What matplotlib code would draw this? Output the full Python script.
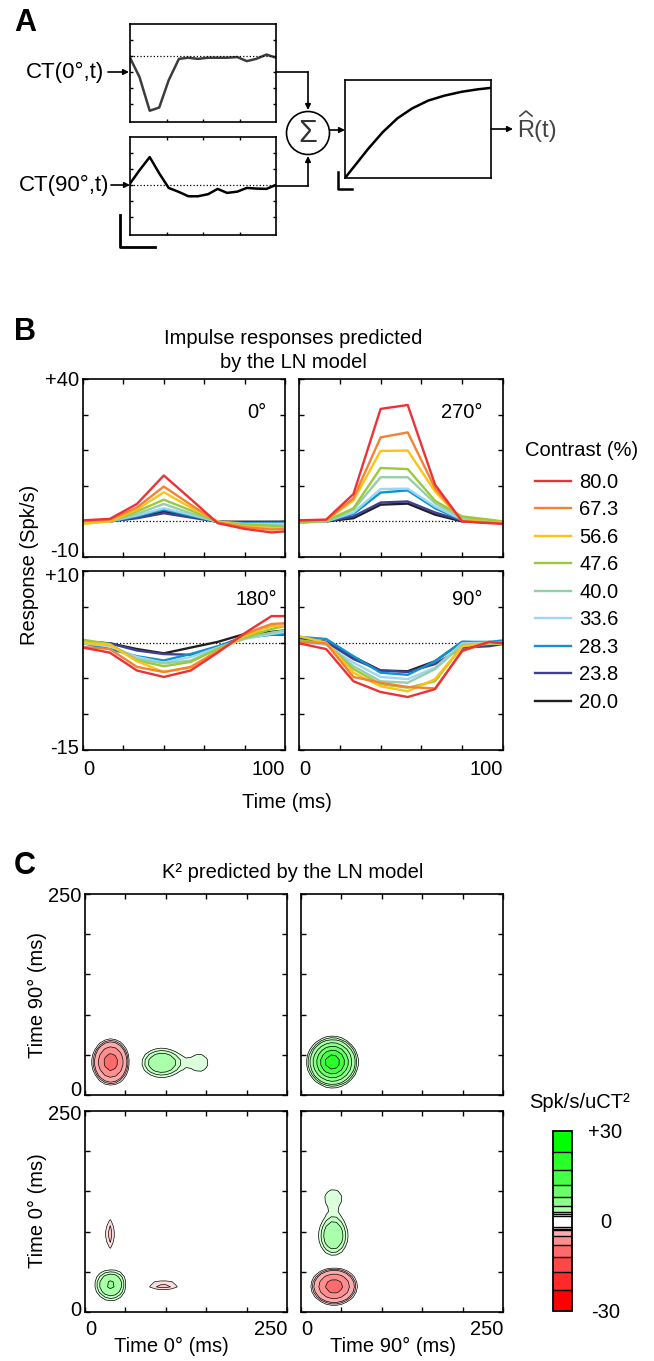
import numpy as np
import matplotlib.pyplot as plt
from matplotlib.patches import Circle

plt.rcParams['font.family'] = ['Liberation Sans', 'DejaVu Sans']
plt.rcParams['axes.unicode_minus'] = False

W, H = 654, 1361
FS = 14.5

# ---- panel A: cross-temporal kernels and static nonlinearity ----
ct_t = [0, 13, 27, 40, 53, 67, 80, 93, 107, 120, 133, 147, 160, 173, 187, 200]
ct0 = [-0.1, -1.3, -3.4, -3.2, -1.5, -0.17, -0.1, -0.17, -0.1, -0.1,
       -0.1, -0.06, -0.31, -0.17, 0.1, -0.1]
ct90 = [0.1, 0.93, 1.75, 0.74, -0.17, -0.42, -0.69, -0.69, -0.56, -0.23,
        -0.48, -0.40, -0.17, -0.21, -0.23, 0.02]

nl_x = [0, 0.08, 0.16, 0.26, 0.36, 0.46, 0.57, 0.68, 0.80, 0.91, 1.0]
nl_y = [0, 0.15, 0.30, 0.47, 0.61, 0.71, 0.79, 0.84, 0.88, 0.905, 0.92]

# ---- panel B: impulse responses ----
b_t = [0, 13.3, 26.7, 40, 53.3, 66.7, 80, 93.3, 100]
contrasts = ['80.0', '67.3', '56.6', '47.6', '40.0', '33.6', '28.3', '23.8', '20.0']
contrast_colors = ['#ec3237', '#f58233', '#fdc218', '#9bc93d', '#94cfa9',
                   '#9cd7ef', '#0d93d2', '#3d3f92', '#231f20']

resp_0 = [
    [0.3, 0.7, 4.9, 12.9, 6.3, -0.5, -2.1, -3.1, -2.8],
    [0.2, 0.5, 3.9, 9.8, 4.7, -0.3, -1.6, -2.3, -2.1],
    [-0.7, 0.0, 3.3, 8.2, 3.9, 0.0, -1.4, -1.9, -1.9],
    [-0.3, 0.0, 2.8, 6.1, 3.1, -0.1, -0.9, -1.2, -1.4],
    [-0.3, 0.0, 2.1, 4.9, 2.3, -0.1, -1.0, -1.2, -1.2],
    [-0.2, 0.0, 1.7, 3.7, 1.9, -0.1, -0.7, -0.7, -0.7],
    [-0.2, 0.0, 1.4, 3.3, 1.6, -0.1, -0.5, -0.5, -0.5],
    [-0.3, 0.0, 0.9, 2.3, 1.1, -0.1, -0.3, -0.2, -0.2],
    [-0.2, 0.0, 1.1, 2.8, 1.4, -0.1, -0.1, -0.1, -0.1],
]
resp_270 = [
    [0.3, 0.5, 7.7, 31.6, 32.7, 10.3, 0.0, -0.5, -0.7],
    [0.2, 0.4, 6.5, 23.6, 25.0, 9.3, 0.0, -0.3, -0.5],
    [0.1, 0.3, 5.9, 19.8, 19.9, 8.4, 0.3, -0.2, -0.2],
    [-0.2, 0.1, 3.7, 15.0, 14.7, 5.8, 1.4, 0.5, 0.0],
    [-0.4, 0.0, 3.3, 12.4, 12.4, 5.1, 0.9, 0.2, -0.2],
    [-0.2, 0.0, 2.5, 9.1, 9.2, 4.2, 0.5, 0.0, -0.3],
    [-0.2, 0.0, 2.1, 8.1, 8.7, 3.7, 0.3, -0.1, -0.2],
    [-0.2, 0.0, 1.4, 5.3, 5.6, 2.5, 0.2, -0.3, -0.5],
    [-0.1, 0.0, 0.9, 4.7, 5.0, 1.9, 0.0, -0.3, -0.5],
]
resp_180 = [
    [-0.7, -1.4, -3.9, -4.8, -3.9, -1.4, 1.3, 3.7, 3.7],
    [-0.6, -0.9, -3.4, -4.1, -3.4, -1.2, 1.2, 2.6, 2.7],
    [0.0, -0.3, -2.6, -4.1, -3.5, -1.2, 0.9, 2.3, 2.4],
    [0.4, -0.2, -2.5, -3.3, -2.7, -0.9, 0.7, 1.9, 2.3],
    [0.1, -0.3, -2.3, -2.9, -2.5, -0.8, 0.6, 1.4, 1.7],
    [-0.1, -0.5, -2.0, -2.8, -2.0, -0.7, 0.5, 1.2, 1.5],
    [-0.1, -0.9, -1.9, -2.5, -1.6, -0.5, 0.7, 1.1, 1.2],
    [0.1, -0.1, -1.1, -1.6, -1.7, -0.6, 0.9, 1.1, 1.1],
    [0.1, -0.1, -0.9, -1.5, -0.7, 0.1, 1.2, 1.5, 1.7],
]
resp_90 = [
    [-0.1, -0.9, -5.4, -6.9, -7.6, -6.5, -1.1, 0.1, -0.1],
    [0.1, -0.1, -4.8, -5.6, -6.2, -6.4, -1.2, 0.1, -0.1],
    [0.9, 0.0, -4.2, -6.1, -6.8, -5.1, -0.5, 0.0, -0.1],
    [0.3, -0.1, -3.7, -5.8, -6.3, -5.4, -0.5, -0.1, -0.2],
    [0.3, -0.2, -3.3, -5.4, -5.6, -3.7, -0.3, -0.1, -0.2],
    [0.1, -0.3, -2.8, -4.8, -5.1, -3.5, -0.1, 0.0, 0.0],
    [0.8, 0.5, -1.9, -4.2, -4.5, -2.6, 0.1, 0.1, 0.3],
    [0.5, 0.1, -2.3, -3.9, -4.1, -3.0, -0.7, -0.5, -0.2],
    [0.5, 0.1, -2.0, -3.9, -4.0, -2.6, 0.1, 0.0, 0.0],
]

# ---- panel C: second-order kernels, blobs ----
# (centre x, centre y, amplitude, width x, width y), times in ms
cross_cx = [32, 95, 143]
cross_cy = [41, 40, 40]
cross_amp = [-10.0, 4.9, 2.05]
cross_sx = [13, 17, 13]
cross_sy = [16, 12, 14]

self90_cx, self90_cy, self90_amp, self90_sx, self90_sy = [39], [41], [21.0], [14], [14]

self0_cx = [32, 31, 97]
self0_cy = [34, 97, 33]
self0_amp = [5.6, -2.8, -2.8]
self0_sx = [12.5, 7, 22]
self0_sy = [12.5, 22, 7]

c_levels = [-30, -23, -17, -12, -8, -5, -3, -2.5, -2, 1.6, 2.2, 3, 5, 8, 12, 17, 23, 30]
c_colors = ['#ff0000', '#ff2a2a', '#ff4848', '#ff6a6a', '#ff8e8e', '#ffaaaa',
            '#ffc4c4', '#ffdcdc', '#ffffff', '#dcffdc', '#c4ffc4', '#aaffaa',
            '#8eff8e', '#6aff6a', '#48ff48', '#2aff2a', '#00ff00']
k_t = np.linspace(0, 250, 41)


def px_axes(x0, y0, x1, y1):
    return fig.add_axes([x0 / W, 1 - y1 / H, (x1 - x0) / W, (y1 - y0) / H])


def ftext(x, y, s, **kw):
    kw.setdefault('fontsize', FS)
    kw.setdefault('ha', 'center')
    kw.setdefault('va', 'center')
    fig.text(x / W, 1 - y / H, s, **kw)


def kernel_grid(cx, cy, amp, sx, sy):
    X, Y = np.meshgrid(k_t, k_t)
    Z = np.zeros_like(X)
    for a, b, c, d, e in zip(cx, cy, amp, sx, sy):
        Z += c * np.exp(-((X - a) ** 2 / (2 * d ** 2) + (Y - b) ** 2 / (2 * e ** 2)))
    return Z


def frame(ax, length=3.5):
    ax.tick_params(direction='in', top=True, right=True, length=length,
                   width=1, labelsize=FS)
    for s in ax.spines.values():
        s.set_linewidth(1.2)


fig = plt.figure(figsize=(W / 100, H / 100), dpi=100)

# ================= A =================
ax_k0 = px_axes(130, 24, 276, 122)
ax_k0.plot(ct_t, ct0, color='#3c3c3c', lw=1.8)
ax_k0.set_ylim(-4.1, 2.0)
ax_k0.set_yticks([-3, -2, -1, 0, 1])

ax_k90 = px_axes(130, 137, 276, 235)
ax_k90.plot(ct_t, ct90, color='black', lw=1.8)
ax_k90.set_ylim(-3.1, 3.0)
ax_k90.set_yticks([-2, -1, 0, 1, 2])

for ax in (ax_k0, ax_k90):
    ax.axhline(0, color='black', lw=0.9, ls=':')
    ax.set_xlim(0, 200)
    ax.set_xticks([50, 100, 150])
    ax.tick_params(direction='in', right=True, top=(ax is ax_k90), length=2.5,
                   width=1, labelbottom=False, labelleft=False)
    for s in ax.spines.values():
        s.set_linewidth(1.2)

ax_nl = px_axes(345, 80, 491, 178)
ax_nl.plot(nl_x, nl_y, color='black', lw=1.8)
ax_nl.set_xlim(0, 1)
ax_nl.set_ylim(0, 1)
ax_nl.set_xticks([])
ax_nl.set_yticks([])
for s in ax_nl.spines.values():
    s.set_linewidth(1.2)

# overlay in pixel coordinates for the block diagram
ov = fig.add_axes([0, 0, 1, 1])
ov.set_xlim(0, W)
ov.set_ylim(H, 0)
ov.axis('off')
ov.patch.set_visible(False)

arrow = dict(arrowstyle='-|>', lw=1.2, color='black', mutation_scale=8,
             shrinkA=0, shrinkB=0)
ov.annotate('', xy=(129, 72), xytext=(108, 72), arrowprops=arrow)
ov.annotate('', xy=(130, 185), xytext=(111, 185), arrowprops=arrow)
ov.plot([276, 308], [72, 72], color='black', lw=1.2)
ov.annotate('', xy=(308, 110), xytext=(308, 72), arrowprops=arrow)
ov.plot([276, 308], [186, 186], color='black', lw=1.2)
ov.annotate('', xy=(308, 156), xytext=(308, 186), arrowprops=arrow)
ov.add_patch(Circle((308, 133), 21.5, fill=False, lw=1.2, color='black'))
ov.text(308, 134, 'Σ', fontsize=22, color='#333333', ha='center', va='center')
ov.annotate('', xy=(345, 130), xytext=(330, 130), arrowprops=arrow)
ov.annotate('', xy=(513, 129), xytext=(491, 129), arrowprops=arrow)
ov.plot([338, 338, 352], [172, 189, 189], color='black', lw=1.8)
ov.plot([120, 120, 155], [215, 247, 247], color='black', lw=2.0)
ov.plot([520, 526, 532], [116, 111, 116], color='#444444', lw=1.2)

ov.text(104, 72, 'CT(0°,t)', fontsize=16, ha='right', va='center')
ov.text(109, 185, 'CT(90°,t)', fontsize=16, ha='right', va='center')
ov.text(517, 131, 'R(t)', fontsize=17, ha='left', va='center', color='#444444')

# ================= B =================
ftext(14, 332, 'B', fontsize=22, fontweight='bold', ha='left')
ftext(293, 339, 'Impulse responses predicted')
ftext(293, 362, 'by the LN model')

b_panels = [
    (px_axes(83, 379, 285, 557), resp_0, '0°', (0.91, 0.81), 'top'),
    (px_axes(299, 379, 503, 557), resp_270, '270°', (0.90, 0.81), 'top'),
    (px_axes(83, 571, 285, 750), resp_180, '180°', (0.96, 0.84), 'bottom'),
    (px_axes(299, 571, 503, 750), resp_90, '90°', (0.90, 0.84), 'bottom'),
]

legend_lines = []
for ax, resp, name, pos, row in b_panels:
    ax.plot([0, 100], [0, 0], color='black', lw=0.9, ls=':')
    for i in range(len(contrasts) - 1, -1, -1):
        ln, = ax.plot(b_t, resp[i], color=contrast_colors[i], lw=1.7)
        if name == '0°':
            legend_lines.append(ln)
    ax.set_xlim(0, 100)
    ax.set_xticks([0, 20, 40, 60, 80, 100])
    if row == 'top':
        ax.set_ylim(-10, 40)
        ax.set_yticks([-10, 0, 10, 20, 30, 40])
    else:
        ax.set_ylim(-15, 10)
        ax.set_yticks([-15, -10, -5, 0, 5, 10])
    frame(ax)
    ax.tick_params(axis='x', pad=7)
    ax.set_yticklabels([])
    if row == 'bottom':
        ax.set_xticklabels(['0', '', '', '', '', '100'])
        ax.get_xticklabels()[0].set_ha('left')
        ax.get_xticklabels()[-1].set_ha('right')
    else:
        ax.set_xticklabels([])
    ax.text(pos[0], pos[1], name, transform=ax.transAxes, fontsize=FS,
            ha='right', va='center')

# end labels of the shared left axis, nudged apart where the panels meet
ftext(79, 381, '+40', ha='right')
ftext(79, 552, '-10', ha='right')
ftext(79, 576, '+10', ha='right')
ftext(79, 749, '-15', ha='right')

ftext(30, 565, 'Response (Spk/s)', rotation=90)
ftext(287, 803, 'Time (ms)')

legend_lines = legend_lines[::-1]
ftext(582, 451, 'Contrast (%)')
fig.legend(legend_lines, contrasts, loc='upper left',
           bbox_to_anchor=(535 / W, 1 - 473 / H), frameon=False, fontsize=FS,
           handlelength=1.8, handletextpad=0.4,
           labelspacing=0.42, borderpad=0, borderaxespad=0)

# ================= C =================
ftext(14, 866, 'C', fontsize=22, fontweight='bold', ha='left')
ftext(293, 872, 'K² predicted by the LN model')

c_panels = [
    (px_axes(85, 894, 287, 1095), (cross_cx, cross_cy, cross_amp, cross_sx, cross_sy), False, False),
    (px_axes(301, 894, 503, 1095), (self90_cx, self90_cy, self90_amp, self90_sx, self90_sy), True, False),
    (px_axes(85, 1111, 287, 1312), (self0_cx, self0_cy, self0_amp, self0_sx, self0_sy), True, True),
    (px_axes(301, 1111, 503, 1312), (cross_cy, cross_cx, cross_amp, cross_sy, cross_sx), False, True),
]

cf = None
for ax, blobs, diag, bottom in c_panels:
    Z = kernel_grid(*blobs)
    if diag:
        ax.plot([0, 250], [0, 250], color='black', lw=1.1, ls=(0, (1, 3)), zorder=0.5)
    cf = ax.contourf(k_t, k_t, Z, levels=c_levels, colors=c_colors, zorder=1)
    ax.contour(k_t, k_t, Z, levels=c_levels[1:-1], colors='black',
               linewidths=0.5, linestyles='solid', zorder=2)
    ax.set_xlim(0, 250)
    ax.set_ylim(0, 250)
    ax.set_xticks([0, 50, 100, 150, 200, 250])
    ax.set_yticks([0, 50, 100, 150, 200, 250])
    frame(ax)
    ax.tick_params(axis='x', pad=6)
    ax.set_yticklabels([])
    if bottom:
        ax.set_xticklabels(['0', '', '', '', '', '250'])
        ax.get_xticklabels()[0].set_ha('left')
        ax.get_xticklabels()[-1].set_ha('right')
    else:
        ax.set_xticklabels([])

ftext(81, 896, '250', ha='right')
ftext(81, 1091, '0', ha='right')
ftext(81, 1115, '250', ha='right')
ftext(81, 1311, '0', ha='right')

ftext(37, 995, 'Time 90° (ms)', rotation=90)
ftext(37, 1211, 'Time 0° (ms)', rotation=90)
ftext(171, 1346, 'Time 0° (ms)')
ftext(393, 1346, 'Time 90° (ms)')

cax = px_axes(553, 1131, 572, 1311)
cb = fig.colorbar(cf, cax=cax, ticks=[-30, 0, 30], drawedges=True,
                  spacing='proportional')
cb.ax.set_yticklabels(['-30', '0', '+30'])
cb.ax.tick_params(length=0, labelsize=FS, pad=24)
for lab in cb.ax.get_yticklabels():
    lab.set_ha('center')
cb.outline.set_linewidth(1.3)
cb.dividers.set_linewidth(1.0)
ftext(580, 1103, 'Spk/s/uCT²')

ftext(14, 23, 'A', fontsize=22, fontweight='bold', ha='left')

fig.savefig('out.png', dpi=100)
